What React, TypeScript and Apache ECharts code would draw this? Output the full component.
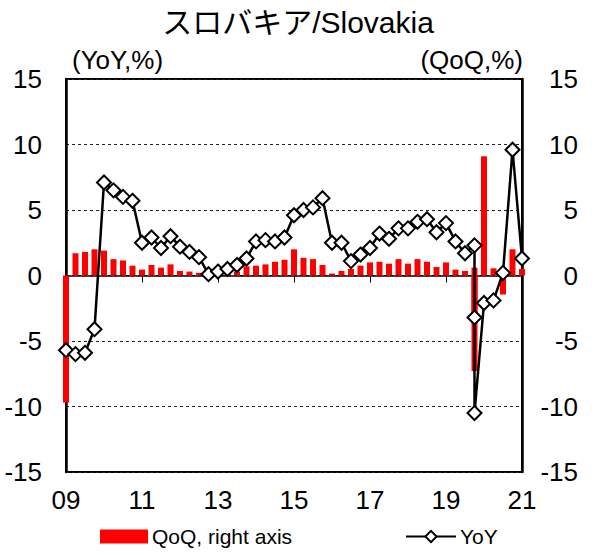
import React, { useEffect, useRef } from "react";
import * as echarts from "echarts";

// Quarters 2009Q1 .. 2021Q3
const quarters: string[] = [
  "2009Q1", "2009Q2", "2009Q3", "2009Q4",
  "2010Q1", "2010Q2", "2010Q3", "2010Q4",
  "2011Q1", "2011Q2", "2011Q3", "2011Q4",
  "2012Q1", "2012Q2", "2012Q3", "2012Q4",
  "2013Q1", "2013Q2", "2013Q3", "2013Q4",
  "2014Q1", "2014Q2", "2014Q3", "2014Q4",
  "2015Q1", "2015Q2", "2015Q3", "2015Q4",
  "2016Q1", "2016Q2", "2016Q3", "2016Q4",
  "2017Q1", "2017Q2", "2017Q3", "2017Q4",
  "2018Q1", "2018Q2", "2018Q3", "2018Q4",
  "2019Q1", "2019Q2", "2019Q3", "2019Q4",
  "2020Q1", "2020Q2", "2020Q3", "2020Q4",
  "2021Q1", "2021Q2", "2021Q3",
];

// Slot of each quarter on the original (date) axis; 2019Q4-2020Q2 share one slot in the source chart
const axisSlot: number[] = [
  0, 1, 2, 3, 4, 5, 6, 7, 8, 9, 10, 11, 12, 13, 14, 15,
  16, 17, 18, 19, 20, 21, 22, 23, 24, 25, 26, 27, 28, 29, 30, 31,
  32, 33, 34, 35, 36, 37, 38, 39, 40, 41, 42, 43,
  43, 43, 44, 45, 46, 47, 48,
];

// YoY, % (left axis)
const yoy: number[] = [
  -5.7, -6.0, -5.9, -4.1,
  7.1, 6.5, 6.0, 5.7,
  2.5, 2.9, 2.1, 3.0,
  2.2, 1.8, 1.4, 0.1,
  0.3, 0.5, 0.8, 1.3,
  2.6, 2.7, 2.6, 2.9,
  4.6, 5.0, 5.2, 5.9,
  2.5, 2.5, 1.1, 1.6,
  2.1, 3.2, 2.8, 3.6,
  3.6, 4.1, 4.3, 3.3,
  4.0, 2.6, 1.7, 2.3,
  -3.2, -10.5, -2.1, -1.9,
  0.2, 9.6, 1.3,
];

// QoQ, % (right axis)
const qoq: number[] = [
  -9.7, 1.7, 1.8, 2.0,
  1.9, 1.25, 1.15, 0.75,
  0.45, 0.8, 0.6, 0.85,
  0.35, 0.3, 0.2, 0.1,
  0.2, 0.3, 0.3, 0.7,
  0.75, 0.85, 1.05, 1.2,
  2.0, 1.35, 1.25, 0.8,
  0.15, 0.35, 0.5, 0.75,
  1.0, 1.05, 0.9, 1.25,
  0.9, 1.25, 1.05, 0.65,
  1.0, 0.45, 0.35, 0.6,
  -3.4, -7.3, 9.1, 0.55,
  -1.45, 2.0, 0.5,
];

const xTickLabels: string[] = ["09", "11", "13", "15", "17", "19", "21"];
const yTicks = { min: -15, max: 15, interval: 5 };

const FONT = '"Liberation Sans", Arial, "Noto Sans CJK JP", sans-serif';

export default function App() {
  const ref = useRef<HTMLDivElement>(null);

  useEffect(() => {
    if (!ref.current) return;
    const chart = echarts.init(ref.current, undefined, { renderer: "svg" });

    const yoyData = quarters.map((q, i) => [axisSlot[i], yoy[i]]);
    const qoqData = quarters.map((q, i) => [axisSlot[i], qoq[i]]);

    const option: any = {
      animation: false,
      backgroundColor: "#fff",
      textStyle: { fontFamily: FONT, color: "#000" },
      title: {
        text: "スロバキア/Slovakia",
        left: "center",
        top: 7,
        padding: 0,
        textStyle: { fontFamily: FONT, fontSize: 30, fontWeight: "normal", color: "#000" },
      },
      graphic: [
        {
          type: "text",
          left: 72,
          top: 47,
          style: { text: "(YoY,%)", fontSize: 26, fontFamily: FONT, fill: "#000" },
        },
        {
          type: "text",
          right: 73,
          top: 47,
          style: { text: "(QoQ,%)", fontSize: 26, fontFamily: FONT, fill: "#000" },
        },
      ],
      legend: [
        {
          data: [{ name: "QoQ, right axis", icon: "rect" }],
          left: 100,
          top: 526,
          padding: 0,
          itemWidth: 48,
          itemHeight: 14,
          itemGap: 0,
          textStyle: { fontSize: 21, fontFamily: FONT, color: "#000", padding: [0, 0, 0, -1] },
        },
        {
          data: ["YoY"],
          left: 405,
          top: 526,
          padding: 0,
          itemWidth: 50,
          itemHeight: 14,
          textStyle: { fontSize: 21, fontFamily: FONT, color: "#000", padding: [0, 0, 0, -1] },
        },
      ],
      grid: {
        left: 66,
        right: 74,
        top: 79,
        bottom: 83,
        show: true,
        borderColor: "#000",
        borderWidth: 2,
        backgroundColor: "transparent",
      },
      xAxis: [
        {
          type: "value",
          min: 0,
          max: 48,
          interval: 8,
          position: "bottom",
          axisLine: { show: false, onZero: false },
          axisTick: { show: false },
          splitLine: { show: false },
          axisLabel: {
            fontSize: 26,
            fontFamily: FONT,
            color: "#000",
            margin: 15,
            formatter: (v: number) => xTickLabels[Math.round(v / 8)] ?? "",
          },
        },
        {
          type: "value",
          min: 0,
          max: 48,
          interval: 8,
          position: "top",
          axisLine: { show: true, onZero: true, lineStyle: { color: "#000", width: 1.5 } },
          axisTick: { show: true, inside: true, length: 7, lineStyle: { color: "#000", width: 1 } },
          axisLabel: { show: false },
          splitLine: { show: false },
        },
      ],
      yAxis: [
        {
          type: "value",
          ...yTicks,
          position: "left",
          axisLine: { show: true, onZero: false, lineStyle: { color: "#000", width: 2.5 } },
          axisTick: { show: false },
          splitLine: { show: true, lineStyle: { color: "#222", width: 1, type: [3, 3] } },
          axisLabel: { fontSize: 26, fontFamily: FONT, color: "#000", margin: 24 },
        },
        {
          type: "value",
          ...yTicks,
          position: "right",
          axisLine: { show: true, onZero: false, lineStyle: { color: "#000", width: 2.5 } },
          axisTick: { show: false },
          splitLine: { show: false },
          axisLabel: { fontSize: 26, fontFamily: FONT, color: "#000", margin: 56, align: "right" },
        },
      ],
      series: [
        {
          name: "QoQ, right axis",
          type: "bar",
          xAxisIndex: 0,
          yAxisIndex: 1,
          barWidth: 6,
          itemStyle: { color: "#ff0000" },
          data: qoqData,
          z: 2,
        },
        {
          name: "YoY",
          type: "line",
          xAxisIndex: 0,
          yAxisIndex: 0,
          data: yoyData,
          symbol: "diamond",
          symbolSize: 14,
          showAllSymbol: true,
          clip: false,
          itemStyle: { color: "#fff", borderColor: "#000", borderWidth: 2 },
          lineStyle: { color: "#000", width: 2.5 },
          z: 5,
        },
      ],
    };

    chart.setOption(option);
    return () => chart.dispose();
  }, []);

  return (
    <div
      ref={ref}
      style={{ position: "absolute", left: 0, top: 0, width: 596, height: 555 }}
    />
  );
}
